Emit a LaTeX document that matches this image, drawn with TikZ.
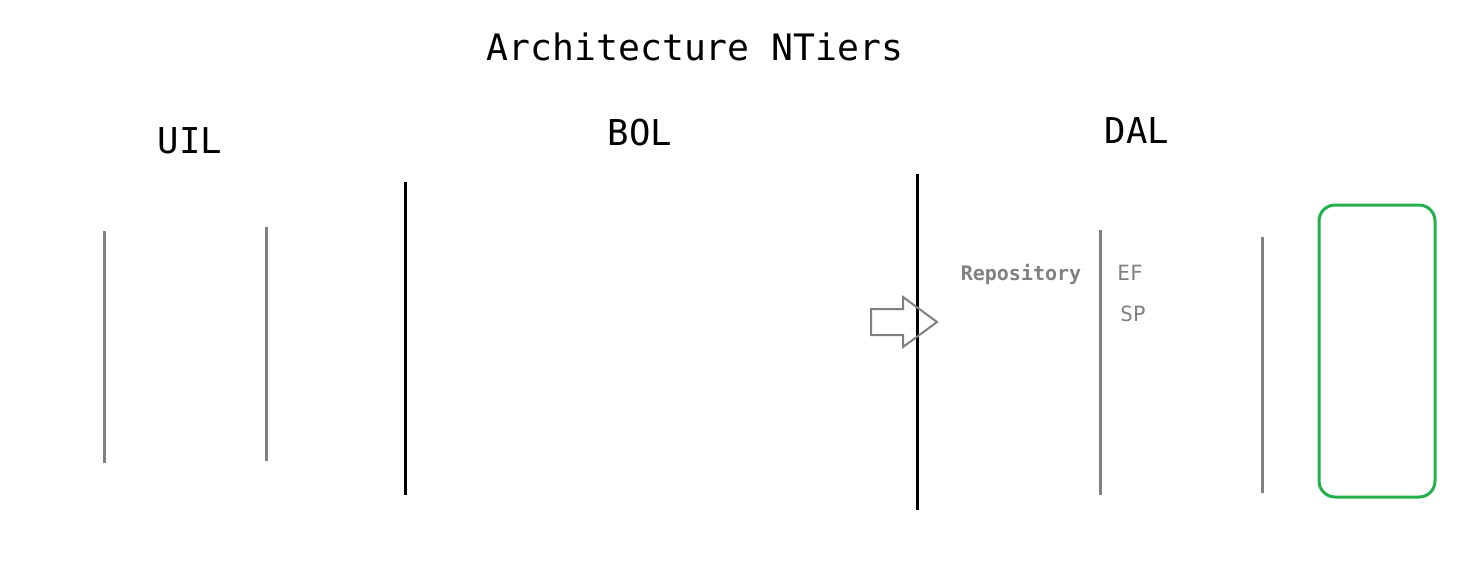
\documentclass[tikz,border=0pt]{standalone}
\usepackage{xcolor}
\usepackage{fontspec}
\setmonofont{DejaVu Sans Mono}
\usepackage{tikz}

\definecolor{tiergray}{RGB}{128,128,128}
\definecolor{storegreen}{RGB}{34,176,76}

\begin{document}
\begin{tikzpicture}[x=.5pt,y=-.5pt,
  title/.style={draw=none,font=\ttfamily\fontsize{18.2}{20}\selectfont},
  tier/.style={draw=none,font=\ttfamily\fontsize{17.8}{20}\selectfont},
  small/.style={draw=none,text=tiergray,font=\ttfamily\bfseries\fontsize{10}{12}\selectfont},
  sep/.style={line width=1.5pt},
  inner/.style={line width=1.5pt,tiergray}]
             \useasboundingbox (0,0) rectangle (1466,586);

             \node[title] (title) at (695, 47) {Architecture NTiers};
             \node[tier] (uil) at (190, 141) {UIL};
             \node[tier] (bol) at (640, 133) {BOL};
             \node[tier] (dal) at (1137, 131) {DAL};

             % UIL
             \draw[inner] (104, 231) -- (104, 463);
             \draw[inner] (266, 227) -- (266, 461);

             % tier separators
             \draw[sep] (405, 182) -- (405, 495);
             \draw[sep] (917, 174) -- (917, 510);

             % DAL
             \draw[inner,line width=1pt] (871, 309) -- (903, 309) -- (903, 297) -- (937, 322)
                  -- (903, 347) -- (903, 335) -- (871, 335) -- cycle;
             \node[small] (repo) at (1021, 274) {Repository};
             \draw[inner] (1100, 230) -- (1100, 495);
             \node[small,font=\ttfamily\fontsize{10.5}{12}\selectfont] (ef) at (1130, 273) {EF};
             \node[small,font=\ttfamily\fontsize{10.5}{12}\selectfont] (sp) at (1133, 314) {SP};
             \draw[inner] (1262, 237) -- (1262, 493);

             \draw[line width=1.5pt,storegreen,rounded corners=8pt] (1319, 205) rectangle (1435, 497);
             \end{tikzpicture}
\end{document}
